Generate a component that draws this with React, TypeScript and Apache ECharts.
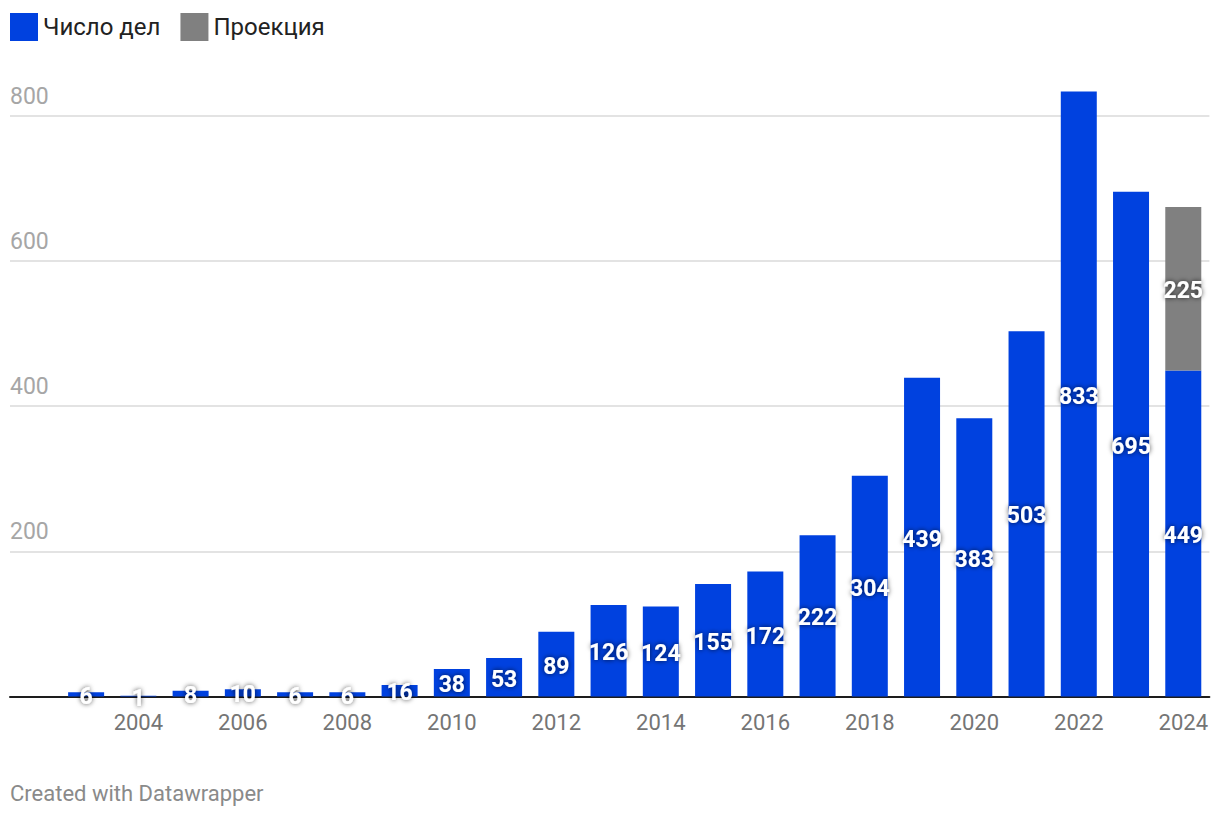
import React, { useEffect, useRef } from "react";
import * as echarts from "echarts";

const years = ["2003","2004","2005","2006","2007","2008","2009","2010","2011","2012","2013","2014","2015","2016","2017","2018","2019","2020","2021","2022","2023","2024"];
const cases = [6, 1, 8, 10, 6, 6, 16, 38, 53, 89, 126, 124, 155, 172, 222, 304, 439, 383, 503, 833, 695, 449];
const projection = [null, null, null, null, null, null, null, null, null, null, null, null, null, null, null, null, null, null, null, null, null, 225];
const yTicks = [0, 200, 400, 600, 800];

const BLUE = "#0041df";
const GRAY = "#808080";
const FONT = "Roboto, 'Noto Sans', sans-serif";

export default function App() {
  const ref = useRef<HTMLDivElement>(null);
  useEffect(() => {
    document.body.style.margin = "0";
    const chart = echarts.init(ref.current!, null, { renderer: "svg" });
    const label = {
      show: true,
      position: "inside",
      offset: [0, 2],
      color: "#ffffff",
      fontFamily: FONT,
      fontWeight: "bold",
      fontSize: 23,
      textShadowColor: "rgba(0,0,0,0.75)",
      textShadowBlur: 5,
    };
    chart.setOption({
      animation: false,
      textStyle: { fontFamily: FONT },
      legend: {
        left: 10,
        top: 13,
        padding: 0,
        icon: "rect",
        itemWidth: 28,
        itemHeight: 28,
        itemGap: 20,
        textStyle: { fontSize: 24, color: "#222", fontFamily: FONT },
        data: ["Число дел", "Проекция"],
      },
      grid: [
        { left: 10, right: 10.6, top: 115.5, bottom: 123.5 },
        { left: 60, right: 10.6, top: 115.5, bottom: 123.5 },
      ],
      xAxis: [
        {
          gridIndex: 0,
          type: "value",
          min: 0,
          max: 1,
          axisLine: { show: true, onZero: true, lineStyle: { color: "#1d1d1d", width: 2 } },
          axisTick: { show: false },
          axisLabel: { show: false },
          splitLine: { show: false },
        },
        {
          gridIndex: 1,
          type: "category",
          data: years,
          axisLine: { show: false },
          axisTick: { show: false },
          axisLabel: {
            interval: (i: number) => i % 2 === 1,
            color: "#757575",
            fontSize: 22,
            fontFamily: FONT,
            margin: 15,
          },
        },
      ],
      yAxis: [
        {
          gridIndex: 0,
          type: "value",
          min: yTicks[0],
          max: yTicks[yTicks.length - 1],
          interval: 200,
          axisLine: { show: false },
          axisTick: { show: false },
          splitLine: { show: true, lineStyle: { color: "#e3e3e3", width: 2 } },
          axisLabel: {
            inside: true,
            margin: 0,
            align: "left",
            verticalAlign: "bottom",
            padding: [0, 0, 8, 0],
            color: "#a6a6a6",
            fontSize: 23,
            fontFamily: FONT,
            formatter: (v: number) => (v === 0 ? "" : String(v)),
          },
        },
        {
          gridIndex: 1,
          type: "value",
          min: yTicks[0],
          max: yTicks[yTicks.length - 1],
          show: false,
          splitLine: { show: false },
        },
      ],
      series: [
        {
          name: "Число дел",
          type: "bar",
          xAxisIndex: 1,
          yAxisIndex: 1,
          stack: "total",
          data: cases,
          barWidth: 36,
          clip: false,
          itemStyle: { color: BLUE },
          label,
          z: 1,
        },
        {
          name: "Проекция",
          type: "bar",
          xAxisIndex: 1,
          yAxisIndex: 1,
          stack: "total",
          data: projection,
          barWidth: 36,
          clip: false,
          itemStyle: { color: GRAY },
          label,
          z: 1,
        },
      ],
      graphic: [
        {
          type: "text",
          left: 10,
          top: 782,
          style: {
            text: "Created with Datawrapper",
            fill: "#8a8a8a",
            fontSize: 22,
            fontFamily: FONT,
          },
        },
      ],
    });
    return () => chart.dispose();
  }, []);
  return (
    <div
      ref={ref}
      style={{ position: "fixed", left: 0, top: 0, width: 1220, height: 820, background: "#fff" }}
    />
  );
}
